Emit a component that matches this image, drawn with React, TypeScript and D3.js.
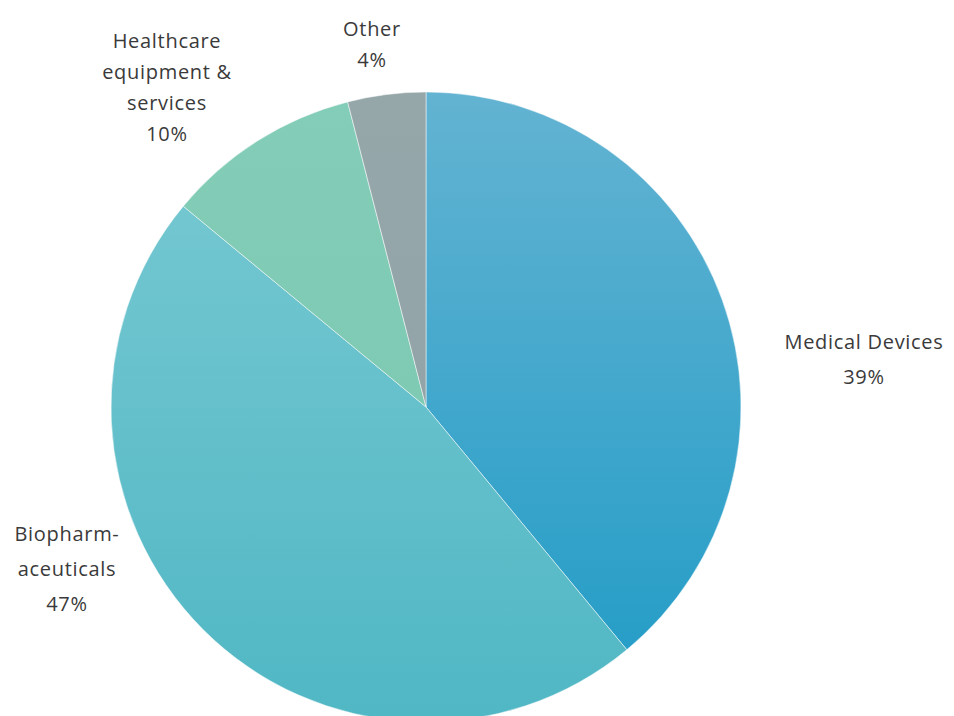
import React from "react";
import * as d3 from "d3";

const categories = ["Medical Devices", "Biopharmaceuticals", "Healthcare equipment & services", "Other"];
const values = [39, 47, 10, 4];
const labelLines = [
  ["Medical Devices", "39%"],
  ["Biopharm-", "aceuticals", "47%"],
  ["Healthcare", "equipment &", "services", "10%"],
  ["Other", "4%"],
];

const W = 954, H = 716;
const cx = 426, cy = 407, R = 315;

const gradStops: [string, string][] = [
  ["#63b3d2", "#1f9bc6"],
  ["#7acad3", "#50b7c4"],
  ["#84cdb8", "#78c7ae"],
  ["#96a7aa", "#8ea1a5"],
];

// label positions (center x, first baseline y, line height)
const labelPos = [
  { x: 864, y: 349, lh: 35 },
  { x: 67, y: 541, lh: 35 },
  { x: 167, y: 48, lh: 31 },
  { x: 372, y: 36, lh: 31 },
];

export default function App() {
  const pie = d3.pie<number>().sort(null).value((d) => d);
  const arcs = pie(values);
  const arc = d3.arc<d3.PieArcDatum<number>>().innerRadius(0).outerRadius(R);
  return (
    <svg width={W} height={H} style={{ position: "absolute", left: 0, top: 0, background: "#fff" }}>
      <defs>
        {gradStops.map((g, i) => (
          <linearGradient key={i} id={`g${i}`} gradientUnits="userSpaceOnUse" x1={0} y1={-R} x2={0} y2={R}>
            <stop offset="0%" stopColor={g[0]} />
            <stop offset="100%" stopColor={g[1]} />
          </linearGradient>
        ))}
      </defs>
      <g transform={`translate(${cx},${cy})`}>
        {arcs.map((a, i) => (
          <path key={categories[i]} d={arc(a) || ""} fill={`url(#g${i})`} stroke="#ffffff" strokeWidth={0.5} />
        ))}
      </g>
      {labelLines.map((lines, i) => (
        <text key={i} textAnchor="middle" fontFamily="'Open Sans', sans-serif" fontSize={20} letterSpacing={0.7} fill="#3a3a3a">
          {lines.map((l, j) => (
            <tspan key={j} x={labelPos[i].x} y={labelPos[i].y + j * labelPos[i].lh}>{l}</tspan>
          ))}
        </text>
      ))}
    </svg>
  );
}
